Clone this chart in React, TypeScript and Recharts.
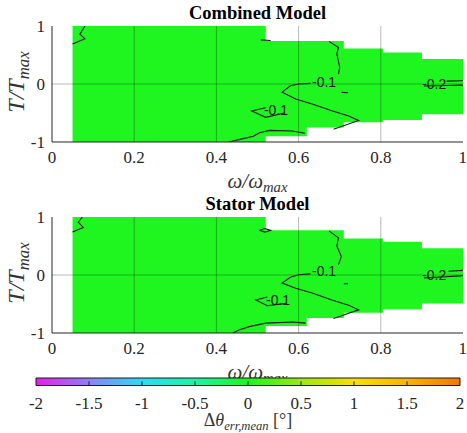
import {
  Area,
  ComposedChart,
  Line,
  ReferenceArea,
  ReferenceDot,
  ReferenceLine,
  XAxis,
  YAxis
} from 'recharts'

type Pt = [number, number]
type ContourLabel = { w: number; t: number; text: string }

const omegaTicks = [0, 0.2, 0.4, 0.6, 0.8, 1]
const torqueTicks = [-1, 0, 1]
const gridOmega = [0.2, 0.4, 0.6, 0.8]
const gridTorque = [0]

// operating region: steps in omega, torque limits per step (last value repeats for stepAfter)
const regionOmega = [0.05, 0.52, 0.62, 0.71, 0.805, 0.9, 1.0]
const combinedUpper = [1, 0.74, 0.74, 0.61, 0.545, 0.43, 0.43]
const combinedLower = [-1, -0.9, -0.75, -0.66, -0.62, -0.52, -0.52]
const statorUpper = [1, 0.77, 0.77, 0.63, 0.575, 0.46, 0.46]
const statorLower = [-1, -0.88, -0.74, -0.65, -0.59, -0.49, -0.49]

// contour lines, [omega, torque] pairs
const combinedContours: Pt[][] = [
  [[0.08, 1], [0.068, 0.86], [0.08, 0.78], [0.05, 0.69]],
  [[0.43, -1], [0.46, -0.95], [0.49, -0.9], [0.505, -0.84], [0.53, -0.8], [0.585, -0.81], [0.615, -0.85]],
  [[0.674, 0.735], [0.697, 0.63], [0.693, 0.52], [0.7, 0.29], [0.697, 0.17]],
  [[0.629, 0.01], [0.6, 0], [0.58, -0.03], [0.56, -0.14], [0.593, -0.26], [0.633, -0.345], [0.681, -0.46], [0.722, -0.55], [0.746, -0.63], [0.685, -0.78]],
  [[0.52, -0.41], [0.486, -0.465], [0.52, -0.575], [0.565, -0.5]],
  [[0.705, -0.145], [0.72, -0.15]],
  [[0.508, 0.76], [0.532, 0.75]],
  [[0.96, 0.05], [1, 0.055]],
  [[0.905, -0.035], [0.96, -0.025], [1, -0.02]]
]
const combinedLabels: ContourLabel[] = [
  { w: 0.662, t: 0.04, text: '-0.1' },
  { w: 0.545, t: -0.45, text: '-0.1' },
  { w: 0.93, t: 0.0, text: '-0.2' }
]

const statorContours: Pt[][] = [
  [[0.074, 1], [0.064, 0.91], [0.076, 0.82], [0.05, 0.74]],
  [[0.44, -1], [0.455, -0.95], [0.48, -0.89], [0.52, -0.83], [0.585, -0.81], [0.617, -0.83]],
  [[0.674, 0.76], [0.697, 0.64], [0.693, 0.5], [0.704, 0.32], [0.697, 0.18]],
  [[0.629, 0.02], [0.6, 0.005], [0.58, -0.04], [0.56, -0.14], [0.593, -0.23], [0.633, -0.31], [0.681, -0.43], [0.722, -0.52], [0.746, -0.6], [0.685, -0.75]],
  [[0.524, -0.38], [0.496, -0.43], [0.524, -0.53], [0.569, -0.49]],
  [[0.71, -0.15], [0.72, -0.15]],
  [[0.505, 0.77], [0.518, 0.8], [0.532, 0.77], [0.518, 0.74], [0.505, 0.77]],
  [[0.965, 0.065], [1, 0.08]],
  [[0.905, -0.05], [0.96, -0.03], [1, -0.01]]
]
const statorLabels: ContourLabel[] = [
  { w: 0.662, t: 0.06, text: '-0.1' },
  { w: 0.55, t: -0.44, text: '-0.1' },
  { w: 0.93, t: 0.0, text: '-0.2' }
]

const colorTicks = [-2, -1.5, -1, -0.5, 0, 0.5, 1, 1.5, 2]
const colorStops = ['#e41fe6', '#8c82f2', '#2cdcf2', '#1ff2a6', '#1ff51f', '#a0e614', '#f7e000', '#f7b400', '#ee780c']
const colorRange = [-2, 2]

const serif = "'Liberation Serif', 'Times New Roman', serif"
const green = '#1ff51f'
const ink = '#262626'

// tick text gets its font from a stylesheet rule, attributes alone did not stick
const css = `
.plot .recharts-cartesian-axis-tick text { font-family: 'Liberation Serif', 'Times New Roman', serif !important; }
.plot .clabel, .plot .clabel tspan { font-family: 'Liberation Sans', Arial, sans-serif !important; }
`

function Panel({
  upper,
  lower,
  contours,
  labels
}: {
  upper: number[]
  lower: number[]
  contours: Pt[][]
  labels: ContourLabel[]
}) {
  const band = regionOmega.map((w, i) => ({ w, band: [lower[i], upper[i]] }))
  const tick = { fontSize: 17, fill: ink }
  return (
    <ComposedChart width={467} height={170} margin={{ top: 26, right: 4, bottom: 0, left: 12 }}>
      <XAxis
        dataKey="w"
        type="number"
        domain={[0, 1]}
        ticks={omegaTicks}
        allowDataOverflow
        height={28}
        tickLine={false}
        tickSize={0}
        tickMargin={9}
        axisLine={{ stroke: ink }}
        tick={tick}
      />
      <XAxis
        xAxisId="top"
        orientation="top"
        type="number"
        domain={[0, 1]}
        height={0}
        tick={false}
        tickLine={false}
        axisLine={{ stroke: ink }}
      />
      <YAxis
        type="number"
        domain={[-1, 1]}
        ticks={torqueTicks}
        allowDataOverflow
        width={40}
        tickLine={false}
        tickSize={0}
        tickMargin={7}
        axisLine={{ stroke: ink }}
        tick={tick}
      />
      <YAxis
        yAxisId="right"
        orientation="right"
        type="number"
        domain={[-1, 1]}
        width={0}
        tick={false}
        tickLine={false}
        axisLine={{ stroke: ink }}
      />
      <Area
        data={band}
        dataKey="band"
        type="stepAfter"
        fill={green}
        fillOpacity={1}
        stroke="none"
        isAnimationActive={false}
      />
      {gridOmega.map((v) => (
        <ReferenceLine key={'gx' + v} x={v} stroke="#000" strokeOpacity={0.28} />
      ))}
      {gridTorque.map((v) => (
        <ReferenceLine key={'gy' + v} y={v} stroke="#000" strokeOpacity={0.28} />
      ))}
      {contours.map((c, i) => (
        <Line
          key={'c' + i}
          data={c.map(([w, t]) => ({ w, t }))}
          dataKey="t"
          type="linear"
          stroke="#1a1a1a"
          strokeWidth={1.1}
          dot={false}
          activeDot={false}
          isAnimationActive={false}
        />
      ))}
      {labels.map((l, i) => (
        <ReferenceDot
          key={'l' + i}
          x={l.w}
          y={l.t}
          r={1}
          fill="none"
          stroke="none"
          label={{
            value: l.text,
            position: 'center',
            fontSize: 14,
            fill: '#1a1a1a',
            className: 'clabel'
          }}
        />
      ))}
    </ComposedChart>
  )
}

function AxisTexts({ top, title }: { top: number; title: string }) {
  return (
    <>
      <div
        style={{
          position: 'absolute',
          left: 52,
          width: 411,
          top: top + 3,
          lineHeight: '20px',
          textAlign: 'center',
          fontFamily: serif,
          fontWeight: 'bold',
          fontSize: 18.5,
          color: '#000'
        }}
      >
        {title}
      </div>
      <div
        style={{
          position: 'absolute',
          left: 16 - 60,
          width: 120,
          top: top + 82 - 13,
          height: 26,
          lineHeight: '26px',
          textAlign: 'center',
          transform: 'rotate(-90deg)',
          whiteSpace: 'nowrap',
          fontFamily: serif,
          fontStyle: 'italic',
          fontSize: 24,
          color: '#333'
        }}
      >
        T/T<span style={{ fontSize: '0.7em', verticalAlign: '-0.3em' }}>max</span>
      </div>
      <div
        style={{
          position: 'absolute',
          left: 52,
          width: 411,
          top: top + 172,
          lineHeight: '18px',
          textAlign: 'center',
          fontFamily: serif,
          fontStyle: 'italic',
          fontSize: 21,
          color: '#333'
        }}
      >
        ω/ω<span style={{ fontSize: '0.7em', verticalAlign: '-0.25em', lineHeight: 0 }}>max</span>
      </div>
    </>
  )
}

function ColorBar() {
  const strip = colorRange.map((v) => ({ v, h: 1 }))
  return (
    <ComposedChart width={467} height={50} margin={{ top: 8, right: 7, bottom: 0, left: 36 }}>
      <defs>
        <linearGradient id="cbar" x1="0" x2="1" y1="0" y2="0">
          {colorStops.map((c, i) => (
            <stop key={c} offset={`${(i / (colorStops.length - 1)) * 100}%`} stopColor={c} />
          ))}
        </linearGradient>
      </defs>
      <XAxis
        type="number"
        dataKey="v"
        domain={[-2, 2]}
        ticks={colorTicks}
        height={34.5}
        tickLine={false}
        tickSize={0}
        tickMargin={11.5}
        axisLine={false}
        tick={{ fontSize: 17, fill: ink }}
      />
      <YAxis type="number" domain={[0, 1]} hide />
      <Area
        data={strip}
        dataKey="h"
        type="linear"
        fill="url(#cbar)"
        fillOpacity={1}
        stroke="none"
        isAnimationActive={false}
      />
      <ReferenceArea x1={-2} x2={2} y1={0} y2={1} fill="none" stroke="#1a1a1a" strokeOpacity={1} />
      {colorTicks.slice(1, -1).map((v) => (
        <ReferenceLine
          key={'ct' + v}
          segment={[
            { x: v, y: 0 },
            { x: v, y: 0.55 }
          ]}
          stroke="#1a1a1a"
        />
      ))}
    </ComposedChart>
  )
}

export default function App() {
  return (
    <div
      className="plot"
      style={{ position: 'absolute', left: 0, top: 0, width: 467, height: 433, background: '#fff', overflow: 'hidden' }}
    >
      <style>{css}</style>
      <div style={{ position: 'absolute', left: 0, top: 0 }}>
        <Panel upper={combinedUpper} lower={combinedLower} contours={combinedContours} labels={combinedLabels} />
      </div>
      <div style={{ position: 'absolute', left: 0, top: 191 }}>
        <Panel upper={statorUpper} lower={statorLower} contours={statorContours} labels={statorLabels} />
      </div>
      <AxisTexts top={0} title="Combined Model" />
      <AxisTexts top={191} title="Stator Model" />
      <div style={{ position: 'absolute', left: 0, top: 370 }}>
        <ColorBar />
      </div>
      <div
        style={{
          position: 'absolute',
          left: 36,
          width: 424,
          top: 409,
          lineHeight: '22px',
          textAlign: 'center',
          fontFamily: serif,
          fontSize: 18,
          color: '#333'
        }}
      >
        Δ<i>θ</i>
        <i style={{ fontSize: '0.7em', verticalAlign: '-0.3em', lineHeight: 0 }}>err,mean</i> [°]
      </div>
    </div>
  )
}
